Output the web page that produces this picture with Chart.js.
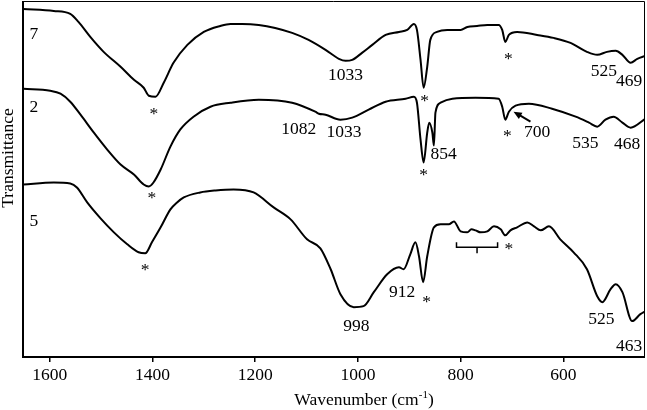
<!DOCTYPE html>
<html lang="en">
<head>
<meta charset="UTF-8">
<title>FTIR spectra 7, 2, 5</title>
<script src="https://cdn.jsdelivr.net/npm/chart.js"></script>
<style>
  html, body { margin: 0; padding: 0; background: #fff; }
  #wrap { width: 647px; height: 410px; }
</style>
</head>
<body>
<div id="wrap"><canvas id="ftirChart"></canvas></div>
<script>
// spectrum 7 (top)
const wn7 = [1651,1592,1560,1544,1521,1495,1462,1436,1417,1407,1394,1378,1359,1332,1300,1268,1248,1225,1193,1161,1128,1096,1063,1037,1024,1011,992,972,946,920,904,891,885,878,872,865,859,846,826,800,787,768,748,726,719,713,706,690,651,619,586,554,534,515,498,485,469,456,440];
const t7  = [349,347,344,336,321,306,291,278,270,262,261,275,295,313,326,332,334,334,333,330,325,318,308,299,297,298,305,313,323,326,328,334,328,298,270,291,318,326,328,328,331,332,333,333,328,316,323,326,323,320,315,306,303,306,307,303,295,299,302];

// spectrum 2 (middle)
const wn2 = [1651,1599,1579,1560,1540,1514,1488,1462,1436,1417,1407,1398,1384,1365,1346,1320,1287,1248,1193,1128,1083,1076,1063,1034,1011,979,946,907,891,885,878,872,865,861,855,852,849,839,816,771,726,719,713,706,693,667,622,576,550,534,518,502,485,469,440];
const t2  = [269,267,264,256,243,225,208,193,183,173,171,175,188,211,228,241,251,255,258,255,246,244,243,238,240,248,256,259,261,255,218,195,225,235,225,212,245,255,259,260,259,251,238,246,252,254,249,241,235,231,238,241,235,230,239];

// spectrum 5 (bottom)
const wn5 = [1651,1592,1560,1547,1527,1501,1475,1449,1427,1414,1401,1384,1365,1352,1339,1307,1277,1242,1203,1164,1131,1099,1073,1053,1034,1008,989,969,943,920,911,898,888,881,873,865,852,839,823,813,800,787,779,771,761,748,735,722,713,703,690,670,657,644,628,606,580,554,534,524,508,498,485,466,450,440];
const t5  = [173,175,174,170,155,139,125,113,105,104,115,130,148,155,160,165,167,168,165,150,138,118,109,88,63,50,51,65,83,90,88,103,115,101,75,101,130,133,133,136,126,125,128,127,125,126,131,128,122,127,130,135,131,127,131,118,105,88,61,55,68,73,65,36,43,46];

const xTicks = [1600, 1400, 1200, 1000, 800, 600];

// text marks: [text, wavenumber, transmittance]
const peakLabels = [
  ['7', 1631, 323], ['2', 1631, 250], ['5', 1631, 136],
  ['*', 1397, 248], ['*', 1401, 163], ['*', 1414, 91],
  ['1033', 1024, 282], ['*', 870, 261], ['*', 707, 303],
  ['525', 521, 286], ['469', 472, 276],
  ['1082', 1115, 228], ['1033', 1027, 225], ['854', 833, 203],
  ['*', 872, 187], ['*', 709, 226], ['700', 651, 225],
  ['535', 557, 214], ['468', 476, 213],
  ['998', 1003, 31], ['912', 914, 65], ['*', 866, 59],
  ['*', 706, 112], ['525', 526, 38], ['463', 472, 11]
];

// arrow to the 700 shoulder: [fromWn, fromT, toWn, toT]
const arrow700 = [664, 236, 697, 246];
// bracket over the 800-730 group of spectrum 5
const bracketWn = [808, 768, 728];
const bracketT = [115, 110, 104];

const FONT = '"Liberation Serif", "Times New Roman", serif';
const FS = 17.5;

function toPoints(xs, ys) {
  return xs.map((v, i) => ({ x: v, y: ys[i] }));
}

const marks = {
  id: 'marks',
  afterDatasetsDraw(chart) {
    const { ctx, chartArea: a, scales: { x, y } } = chart;
    ctx.save();
    ctx.fillStyle = '#000';
    ctx.strokeStyle = '#000';
    ctx.font = FS + 'px ' + FONT;
    ctx.textAlign = 'center';
    peakLabels.forEach(([txt, w, v]) => {
      const px = x.getPixelForValue(w);
      const py = y.getPixelForValue(v);
      if (txt === '*') {
        ctx.textBaseline = 'alphabetic';
        ctx.fillText(txt, px, py + 9);
      } else {
        ctx.textBaseline = 'middle';
        ctx.fillText(txt, px, py);
      }
    });

    // arrow
    const x0 = x.getPixelForValue(arrow700[0]), y0 = y.getPixelForValue(arrow700[1]);
    const x1 = x.getPixelForValue(arrow700[2]), y1 = y.getPixelForValue(arrow700[3]);
    const ang = Math.atan2(y1 - y0, x1 - x0);
    ctx.lineWidth = 2;
    ctx.beginPath();
    ctx.moveTo(x0, y0);
    ctx.lineTo(x1 - 6 * Math.cos(ang), y1 - 6 * Math.sin(ang));
    ctx.stroke();
    ctx.beginPath();
    ctx.moveTo(x1, y1);
    ctx.lineTo(x1 - 9 * Math.cos(ang - 0.4), y1 - 9 * Math.sin(ang - 0.4));
    ctx.lineTo(x1 - 9 * Math.cos(ang + 0.4), y1 - 9 * Math.sin(ang + 0.4));
    ctx.closePath();
    ctx.fill();

    // bracket
    const bx0 = x.getPixelForValue(bracketWn[0]);
    const bxm = x.getPixelForValue(bracketWn[1]);
    const bx1 = x.getPixelForValue(bracketWn[2]);
    const byTop = y.getPixelForValue(bracketT[0]);
    const byMid = y.getPixelForValue(bracketT[1]);
    const byLow = y.getPixelForValue(bracketT[2]);
    ctx.lineWidth = 1.5;
    ctx.beginPath();
    ctx.moveTo(bx0, byTop);
    ctx.lineTo(bx0, byMid);
    ctx.lineTo(bx1, byMid);
    ctx.lineTo(bx1, byTop);
    ctx.moveTo(bxm, byMid);
    ctx.lineTo(bxm, byLow);
    ctx.stroke();

    // frame
    ctx.lineWidth = 1;
    ctx.beginPath();
    ctx.moveTo(a.left, a.top + 0.5);
    ctx.lineTo(a.right - 0.5, a.top + 0.5);
    ctx.lineTo(a.right - 0.5, a.bottom);
    ctx.stroke();
    ctx.lineWidth = 2;
    ctx.beginPath();
    ctx.moveTo(a.left, a.top);
    ctx.lineTo(a.left, a.bottom);
    ctx.lineTo(a.right, a.bottom);
    ctx.stroke();

    // axis titles
    ctx.textBaseline = 'alphabetic';
    ctx.textAlign = 'left';
    const main = 'Wavenumber (cm';
    const sup = '-1';
    const wMain = ctx.measureText(main).width;
    ctx.font = '11px ' + FONT;
    const wSup = ctx.measureText(sup).width;
    ctx.font = FS + 'px ' + FONT;
    const wEnd = ctx.measureText(')').width;
    const total = wMain + wSup + wEnd;
    let tx = 364 - total / 2;
    const ty = 405;
    ctx.fillText(main, tx, ty);
    tx += wMain;
    ctx.font = '11px ' + FONT;
    ctx.fillText(sup, tx, ty - 7);
    tx += wSup;
    ctx.font = FS + 'px ' + FONT;
    ctx.fillText(')', tx, ty);

    ctx.translate(8, 158);
    ctx.rotate(-Math.PI / 2);
    ctx.textAlign = 'center';
    ctx.textBaseline = 'middle';
    ctx.fillText('Transmittance', 0, 0);
    ctx.restore();
  }
};

const lineStyle = {
  borderColor: '#000',
  borderWidth: 2,
  pointRadius: 0,
  showLine: true,
  cubicInterpolationMode: 'monotone',
  fill: false
};

new Chart(document.getElementById('ftirChart'), {
  type: 'scatter',
  data: {
    datasets: [
      Object.assign({ label: '7', data: toPoints(wn7, t7) }, lineStyle),
      Object.assign({ label: '2', data: toPoints(wn2, t2) }, lineStyle),
      Object.assign({ label: '5', data: toPoints(wn5, t5) }, lineStyle)
    ]
  },
  options: {
    responsive: true,
    maintainAspectRatio: false,
    animation: false,
    devicePixelRatio: 1,
    layout: { padding: { left: 23, right: 2, top: 1, bottom: 21 } },
    plugins: {
      legend: { display: false },
      tooltip: { enabled: false },
      title: { display: false }
    },
    scales: {
      x: {
        type: 'linear',
        reverse: true,
        min: 441,
        max: 1652,
        afterBuildTicks: (scale) => { scale.ticks = xTicks.map(v => ({ value: v })); },
        border: { display: false },
        grid: { drawOnChartArea: false, drawTicks: true, tickLength: 5, color: '#000', lineWidth: 1.5 },
        ticks: {
          color: '#000',
          padding: 3,
          maxRotation: 0,
          font: { family: FONT, size: FS },
          callback: (v) => String(v)
        }
      },
      y: {
        display: false,
        min: 0,
        max: 357
      }
    }
  },
  plugins: [marks]
});
</script>
</body>
</html>
